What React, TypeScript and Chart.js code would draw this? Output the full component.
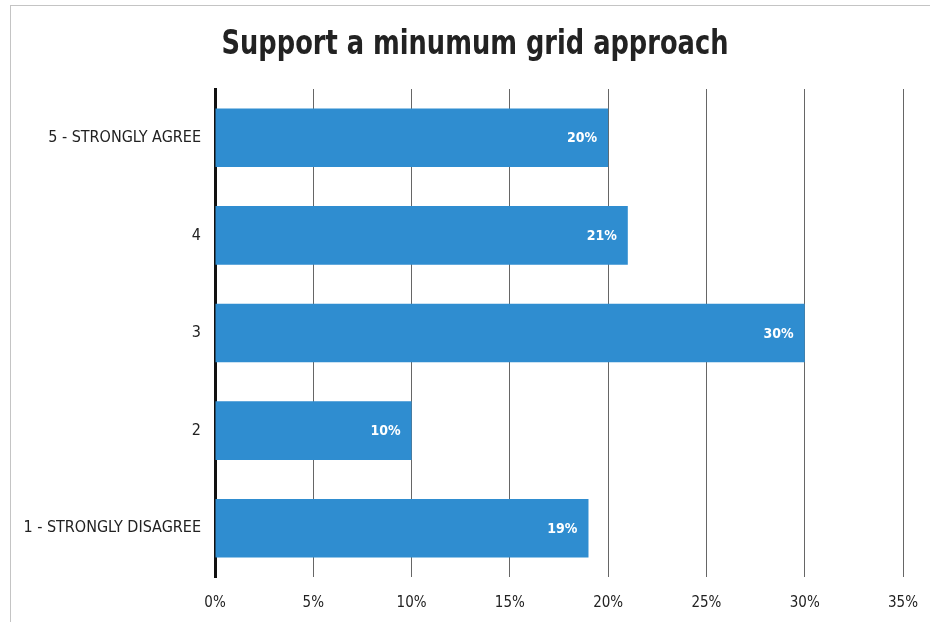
import React, { useEffect, useRef } from "react";
import { Chart, registerables } from "chart.js";

Chart.register(...registerables);

const titleText = "Support a minumum grid approach";
const categories = ["5 - STRONGLY AGREE", "4", "3", "2", "1 - STRONGLY DISAGREE"];
const values = [20, 21, 30, 10, 19];
const xTickMax = 35;
const xTickStep = 5;

const NARROW = "'Liberation Sans Narrow', 'DejaVu Sans Condensed', 'Liberation Sans', Arial, sans-serif";

const barLabelPlugin = {
  id: "barLabels",
  afterDatasetsDraw(chart: any) {
    const ctx = chart.ctx;
    const meta = chart.getDatasetMeta(0);
    ctx.save();
    ctx.fillStyle = "#ffffff";
    ctx.font = `bold 14px ${NARROW}`;
    ctx.textAlign = "right";
    ctx.textBaseline = "middle";
    meta.data.forEach((bar: any, i: number) => {
      const v = chart.data.datasets[0].data[i] as number;
      ctx.fillText(`${Math.round(v)}%`, bar.x - 11, bar.y + 1);
    });
    ctx.restore();
  },
};

const titlePlugin = {
  id: "narrowTitle",
  afterDraw(chart: any) {
    const ctx = chart.ctx;
    ctx.save();
    ctx.fillStyle = "#222222";
    ctx.font = `bold 34px ${NARROW}`;
    ctx.textAlign = "center";
    ctx.textBaseline = "middle";
    ctx.translate(475, 45);
    ctx.scale(0.84, 1);
    ctx.fillText(titleText, 0, 0);
    ctx.restore();
  },
};

export default function App() {
  const ref = useRef<HTMLCanvasElement | null>(null);
  useEffect(() => {
    if (!ref.current) return;
    const chart = new Chart(ref.current, {
      type: "bar",
      data: {
        labels: categories,
        datasets: [
          {
            data: values,
            backgroundColor: "#2f8dd0",
            borderWidth: 0,
            categoryPercentage: 1,
            barPercentage: 0.6,
          },
        ],
      },
      options: {
        indexAxis: "y",
        animation: false,
        responsive: false,
        maintainAspectRatio: false,
        layout: { padding: { left: 0, right: 27, top: 89, bottom: 0 } },
        plugins: {
          legend: { display: false },
          tooltip: { enabled: false },
          title: { display: false },
        },
        scales: {
          x: {
            min: 0,
            max: xTickMax,
            ticks: {
              stepSize: xTickStep,
              color: "#222222",
              font: { family: NARROW, size: 15 },
              padding: 17,
              callback: (v: any) => `${v}%`,
            },
            grid: { color: "#666666", lineWidth: 1, drawTicks: false },
            border: { display: false },
            afterFit: (s: any) => {
              s.height = 45;
              s.paddingRight = 0;
              s.paddingLeft = 0;
            },
          },
          y: {
            ticks: {
              color: "#222222",
              font: { family: NARROW, size: 16 },
              padding: 14,
            },
            grid: { display: false, drawTicks: false },
            border: { display: true, color: "#111111", width: 3 },
            afterFit: (s: any) => {
              s.width = 215;
            },
          },
        },
      },
      plugins: [barLabelPlugin, titlePlugin],
    });
    return () => chart.destroy();
  }, []);
  return (
    <div
      style={{
        position: "fixed",
        left: 0,
        top: 0,
        width: 930,
        height: 622,
        background: "#ffffff",
      }}
    >
      <div
        style={{
          position: "absolute",
          left: 10,
          top: 5,
          width: 920,
          height: 617,
          borderTop: "1px solid #c4c4c4",
          borderLeft: "1px solid #c4c4c4",
          boxSizing: "border-box",
        }}
      />
      <canvas
        ref={ref}
        width={930}
        height={622}
        style={{ display: "block", position: "absolute", left: 0, top: 0 }}
      />
    </div>
  );
}
